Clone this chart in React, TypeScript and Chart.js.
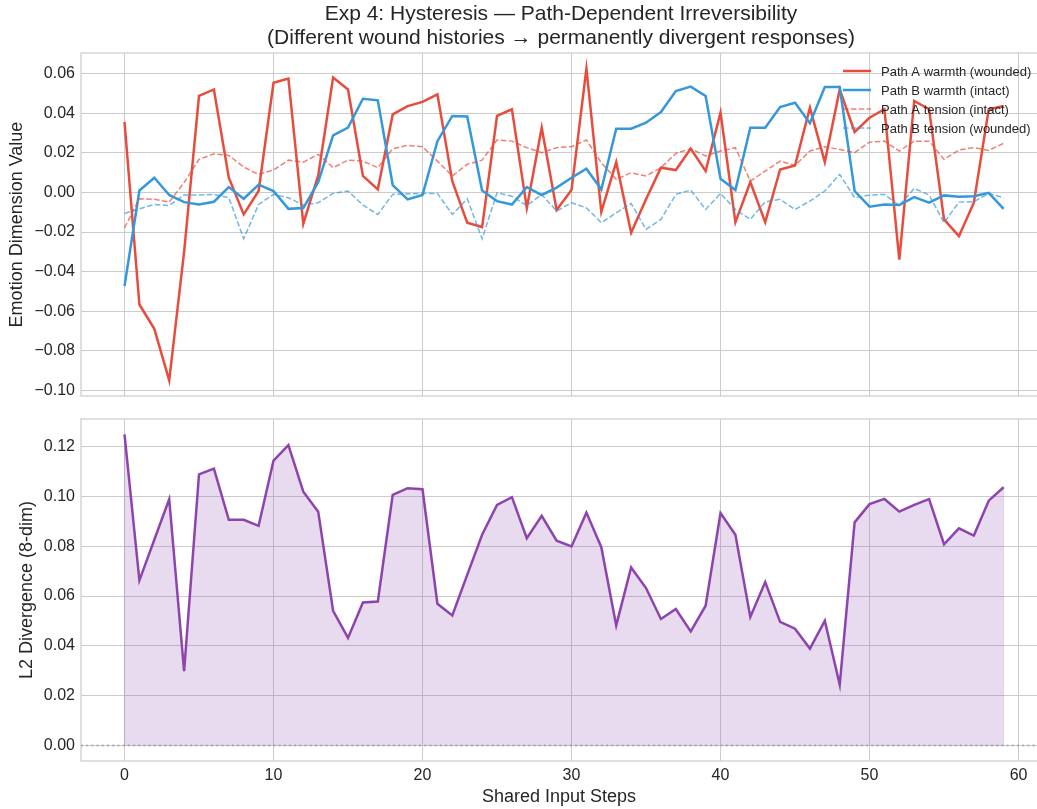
import React, { useEffect, useRef } from "react";
import { Chart, registerables } from "chart.js";
Chart.register(...registerables);

const FONT = "'Liberation Sans', Arial, Helvetica, sans-serif";
const TEXT = "#262626";
const GRID = "#cccccc";

const titleLines = [
  "Exp 4: Hysteresis \u2014 Path-Dependent Irreversibility",
  "(Different wound histories \u2192 permanently divergent responses)",
];
const topYLabel = "Emotion Dimension Value";
const bottomYLabel = "L2 Divergence (8-dim)";
const xLabel = "Shared Input Steps";

const xTicks = [0, 10, 20, 30, 40, 50, 60];
const topYTicks = [-0.1, -0.08, -0.06, -0.04, -0.02, 0, 0.02, 0.04, 0.06];
const bottomYTicks = [0, 0.02, 0.04, 0.06, 0.08, 0.1, 0.12];

const seriesLabels = [
  "Path A warmth (wounded)",
  "Path B warmth (intact)",
  "Path A tension (intact)",
  "Path B tension (wounded)",
];

const pathAWarmth = [
  0.0356, -0.0566, -0.0689, -0.0949, -0.03, 0.0487, 0.052, 0.0074, -0.0111, 0.0007,
  0.0554, 0.0575, -0.0158, 0.0086, 0.058, 0.052, 0.0083, 0.0015, 0.0394, 0.0436,
  0.0457, 0.0495, 0.0057, -0.0153, -0.0175, 0.0386, 0.042, -0.0078, 0.0327, -0.0089,
  0.0012, 0.0625, -0.0098, 0.0153, -0.0204, -0.0035, 0.0125, 0.0113, 0.0221, 0.0108,
  0.0403, -0.015, 0.0052, -0.015, 0.0116, 0.0136, 0.0428, 0.0153, 0.052, 0.0305,
  0.0377, 0.042, -0.0339, 0.0462, 0.042, -0.0136, -0.0221, -0.0052, 0.042, 0.0436,
];

const pathBWarmth = [
  -0.0473, 0.001, 0.0074, -0.0013, -0.0049, -0.0061, -0.0047, 0.0027, -0.0032, 0.0039,
  0.0007, -0.0083, -0.0079, 0.0052, 0.0288, 0.0327, 0.0473, 0.0465, 0.0037, -0.0035,
  -0.0013, 0.0259, 0.0386, 0.0383, 0.001, -0.0044, -0.0061, 0.0027, -0.0013, 0.0024,
  0.0074, 0.012, 0.0015, 0.0322, 0.0322, 0.0352, 0.0406, 0.0512, 0.0534, 0.0487,
  0.0069, 0.0012, 0.0327, 0.0327, 0.0431, 0.0453, 0.0349, 0.0532, 0.0532, 0.0007,
  -0.0072, -0.0061, -0.0064, -0.0024, -0.0052, -0.0015, -0.0022, -0.0019, -0.0002, -0.0083,
];

const pathATension = [
  -0.0179, -0.0032, -0.0035, -0.0049, 0.005, 0.0167, 0.0195, 0.0187, 0.0128, 0.0091,
  0.0113, 0.0163, 0.0153, 0.0192, 0.0125, 0.0163, 0.0158, 0.0125, 0.0221, 0.0238,
  0.0231, 0.0158, 0.0083, 0.0142, 0.0163, 0.0265, 0.0259, 0.0226, 0.0201, 0.0226,
  0.0231, 0.0265, 0.015, 0.0066, 0.0099, 0.0083, 0.0125, 0.0197, 0.0221, 0.0184,
  0.0209, 0.0226, 0.0057, 0.0108, 0.0158, 0.0136, 0.0209, 0.0231, 0.0217, 0.0201,
  0.0254, 0.0259, 0.0209, 0.0259, 0.0259, 0.0167, 0.0214, 0.0226, 0.0212, 0.0248,
];

const pathBTension = [
  -0.0106, -0.0083, -0.0061, -0.0066, -0.0013, -0.0013, -0.001, -0.0027, -0.0234, -0.0061,
  -0.001, -0.0027, -0.0064, -0.0052, -0.0005, 0.0007, -0.0064, -0.0111, -0.001, -0.0007,
  -0.0005, -0.0005, -0.0111, -0.0032, -0.0234, -0.0002, -0.0019, -0.0066, -0.001, -0.0094,
  -0.0052, -0.0078, -0.0153, -0.0103, -0.0056, -0.0187, -0.0136, -0.001, 0.0012, -0.0086,
  -0.0005, -0.0086, -0.0136, -0.0047, -0.0035, -0.0086, -0.0044, 0.0007, 0.0091, -0.0027,
  -0.0013, -0.001, -0.0066, 0.002, -0.0013, -0.0153, -0.0049, -0.0047, -0.0005, -0.0027,
];

const divergence = [
  0.1249, 0.0663, 0.0826, 0.0989, 0.0298, 0.1089, 0.1112, 0.0906, 0.0906, 0.0882,
  0.1144, 0.1206, 0.1019, 0.0939, 0.0541, 0.0432, 0.0574, 0.0578, 0.1006, 0.1033,
  0.1029, 0.0569, 0.0522, 0.0685, 0.0846, 0.0966, 0.0997, 0.0832, 0.0922, 0.0822,
  0.0799, 0.0935, 0.0796, 0.0482, 0.0715, 0.0632, 0.0508, 0.0548, 0.0458, 0.0561,
  0.0933, 0.0846, 0.0516, 0.0656, 0.0496, 0.0469, 0.0389, 0.0501, 0.0244, 0.0896,
  0.0969, 0.099, 0.0939, 0.0966, 0.0989, 0.0808, 0.0872, 0.0843, 0.0983, 0.1037,
];

const RED = "#e74c3c";
const BLUE = "#3498db";
const RED_DASH = "rgba(231,76,60,0.7)";
const BLUE_DASH = "rgba(52,152,219,0.7)";
const PURPLE = "#8e44ad";
const PURPLE_FILL = "rgba(142,68,173,0.2)";
const DASH = [5.5, 2.4];

const X_MIN = -2.92;
const X_MAX = 61.24;

const toPoints = (arr: number[]) => arr.map((v, i) => ({ x: i, y: v }));
const fmt = (v: number) => {
  const s = Math.abs(v).toFixed(2);
  return v < -1e-9 ? "\u2212" + s : s;
};

const framePlugin = {
  id: "frame",
  afterDatasetsDraw(chart: any) {
    const { ctx, chartArea: a } = chart;
    ctx.save();
    ctx.strokeStyle = GRID;
    ctx.lineWidth = 1.25;
    ctx.strokeRect(a.left, a.top, a.right - a.left + 2, a.bottom - a.top);
    ctx.restore();
  },
};

const titlePlugin = {
  id: "figTitle",
  afterDraw(chart: any) {
    const { ctx, chartArea: a } = chart;
    ctx.save();
    ctx.fillStyle = TEXT;
    ctx.font = `21px ${FONT}`;
    ctx.textAlign = "center";
    ctx.textBaseline = "middle";
    const cx = (a.left + a.right) / 2 + 2;
    titleLines.forEach((t, i) => ctx.fillText(t, cx, 14 + i * 24));
    ctx.restore();
  },
};

const legendPlugin = {
  id: "customLegend",
  afterDraw(chart: any) {
    const { ctx, chartArea: a } = chart;
    ctx.save();
    ctx.font = `13px ${FONT}`;
    ctx.textBaseline = "middle";
    ctx.textAlign = "left";
    chart.data.datasets.forEach((ds: any, i: number) => {
      const y = a.top + 18 + i * 19;
      const x0 = a.right - 194;
      ctx.save();
      ctx.strokeStyle = ds.borderColor;
      ctx.lineWidth = ds.borderWidth;
      ctx.setLineDash(ds.borderDash || []);
      ctx.beginPath();
      ctx.moveTo(x0, y);
      ctx.lineTo(x0 + 28, y);
      ctx.stroke();
      ctx.restore();
      ctx.fillStyle = TEXT;
      ctx.fillText(ds.label, x0 + 38, y + 1);
    });
    ctx.restore();
  },
};

const fillEdgePlugin = {
  id: "fillEdge",
  beforeDatasetsDraw(chart: any) {
    const { ctx, scales } = chart;
    const meta = chart.getDatasetMeta(0);
    const pts = meta.data;
    if (!pts.length) return;
    const y0 = scales.y.getPixelForValue(0);
    ctx.save();
    ctx.strokeStyle = PURPLE_FILL;
    ctx.lineWidth = 1;
    ctx.beginPath();
    ctx.moveTo(pts[0].x, pts[0].y);
    ctx.lineTo(pts[0].x, y0);
    ctx.moveTo(pts[pts.length - 1].x, pts[pts.length - 1].y);
    ctx.lineTo(pts[pts.length - 1].x, y0);
    ctx.stroke();
    ctx.restore();
  },
};

const zeroLinePlugin = {
  id: "zeroLine",
  afterDatasetsDraw(chart: any) {
    const { ctx, chartArea: a, scales } = chart;
    const y = scales.y.getPixelForValue(0);
    ctx.save();
    ctx.strokeStyle = "rgba(128,128,128,0.5)";
    ctx.lineWidth = 2;
    ctx.setLineDash([2, 3.2]);
    ctx.beginPath();
    ctx.moveTo(a.left, y);
    ctx.lineTo(a.right, y);
    ctx.stroke();
    ctx.restore();
  },
};

const xScale = (showLabels: boolean, height: number) => ({
  type: "linear",
  min: X_MIN,
  max: X_MAX,
  afterBuildTicks: (s: any) => {
    s.ticks = xTicks.map((v) => ({ value: v }));
  },
  afterFit: (s: any) => {
    s.height = height;
    s.paddingLeft = 0;
    s.paddingRight = 0;
  },
  grid: { color: GRID, lineWidth: 1, drawTicks: false },
  border: { display: false },
  ticks: {
    display: showLabels,
    color: TEXT,
    font: { family: FONT, size: 16 },
    padding: 5,
    maxRotation: 0,
    callback: (v: number) => String(v),
  },
  title: showLabels
    ? {
        display: true,
        text: xLabel,
        color: TEXT,
        font: { family: FONT, size: 18 },
        padding: { top: 0, bottom: 1 },
      }
    : { display: false },
});

const yScale = (min: number, max: number, ticks: number[], label: string, titlePad: number) => ({
  type: "linear",
  min,
  max,
  afterBuildTicks: (s: any) => {
    s.ticks = ticks.map((v) => ({ value: v }));
  },
  afterFit: (s: any) => {
    s.width = 81;
    s.paddingTop = 0;
    s.paddingBottom = 0;
  },
  grid: { color: GRID, lineWidth: 1, drawTicks: false },
  border: { display: false },
  ticks: {
    color: TEXT,
    font: { family: FONT, size: 16 },
    padding: 6,
    callback: (v: number) => fmt(v),
  },
  title: {
    display: true,
    text: label,
    color: TEXT,
    font: { family: FONT, size: 18 },
    padding: { top: titlePad, bottom: 0 },
  },
});

export default function App() {
  const topRef = useRef<HTMLCanvasElement>(null);
  const bottomRef = useRef<HTMLCanvasElement>(null);

  useEffect(() => {
    const topChart = new Chart(topRef.current as HTMLCanvasElement, {
      type: "line",
      data: {
        datasets: [
          {
            label: seriesLabels[0],
            data: toPoints(pathAWarmth),
            borderColor: RED,
            borderWidth: 2.5,
            pointRadius: 0,
            tension: 0,
            order: 4,
          },
          {
            label: seriesLabels[1],
            data: toPoints(pathBWarmth),
            borderColor: BLUE,
            borderWidth: 2.5,
            pointRadius: 0,
            tension: 0,
            order: 3,
          },
          {
            label: seriesLabels[2],
            data: toPoints(pathATension),
            borderColor: RED_DASH,
            borderWidth: 1.5,
            borderDash: DASH,
            pointRadius: 0,
            tension: 0,
            order: 2,
          },
          {
            label: seriesLabels[3],
            data: toPoints(pathBTension),
            borderColor: BLUE_DASH,
            borderWidth: 1.5,
            borderDash: DASH,
            pointRadius: 0,
            tension: 0,
            order: 1,
          },
        ],
      },
      options: {
        responsive: false,
        animation: false,
        devicePixelRatio: 1,
        layout: { padding: { top: 53, left: 0, right: 0, bottom: 0 } },
        plugins: { legend: { display: false }, tooltip: { enabled: false }, title: { display: false } },
        scales: {
          x: xScale(false, 9) as any,
          y: yScale(-0.1028, 0.0704, topYTicks, topYLabel, 6) as any,
        },
      },
      plugins: [framePlugin, titlePlugin, legendPlugin],
    });

    const bottomChart = new Chart(bottomRef.current as HTMLCanvasElement, {
      type: "line",
      data: {
        datasets: [
          {
            label: bottomYLabel,
            data: toPoints(divergence),
            borderColor: PURPLE,
            backgroundColor: PURPLE_FILL,
            borderWidth: 2.5,
            pointRadius: 0,
            tension: 0,
            fill: "origin",
          },
        ],
      },
      options: {
        responsive: false,
        animation: false,
        devicePixelRatio: 1,
        layout: { padding: { top: 14, left: 0, right: 0, bottom: 0 } },
        plugins: { legend: { display: false }, tooltip: { enabled: false }, title: { display: false } },
        scales: {
          x: xScale(true, 48) as any,
          y: yScale(-0.00625, 0.1311, bottomYTicks, bottomYLabel, 16) as any,
        },
      },
      plugins: [framePlugin, fillEdgePlugin, zeroLinePlugin],
    });

    return () => {
      topChart.destroy();
      bottomChart.destroy();
    };
  }, []);

  return (
    <div style={{ position: "fixed", left: 0, top: 0, width: 1037, height: 809, background: "#fff" }}>
      <canvas
        ref={topRef}
        width={1037}
        height={405}
        style={{ position: "absolute", left: 0, top: 0, width: 1037, height: 405 }}
      />
      <canvas
        ref={bottomRef}
        width={1037}
        height={404}
        style={{ position: "absolute", left: 0, top: 405, width: 1037, height: 404 }}
      />
    </div>
  );
}
